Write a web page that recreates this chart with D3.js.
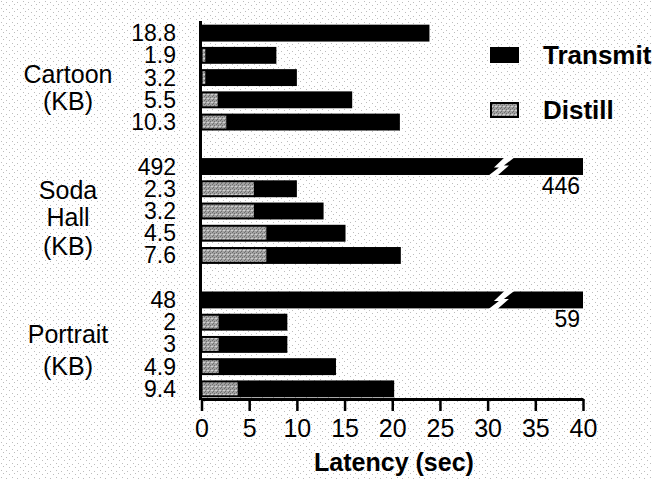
<!DOCTYPE html>
<html>
<head>
<meta charset="utf-8">
<script src="https://cdn.jsdelivr.net/npm/d3@7"></script>
<style>
  body { margin: 0; background: #fff; }
  svg text { font-family: "Liberation Sans", Arial, Helvetica, sans-serif; fill: #000; }
</style>
</head>
<body>
<div id="chart"></div>
<script>
// image groups, shown as the label block on the left
let groupNames = [["Cartoon", "(KB)"], ["Soda", "Hall", "(KB)"], ["Portrait", "(KB)"]]

// size of each image (KB), one row per bar
let cartoonSizes = ["18.8", "1.9", "3.2", "5.5", "10.3"]
let sodaSizes = ["492", "2.3", "3.2", "4.5", "7.6"]
let portraitSizes = ["48", "2", "3", "4.9", "9.4"]

// latency parts (sec)
let cartoonDistill = [0, 0.4, 0.4, 1.7, 2.6]
let cartoonTransmit = [23.9, 7.45, 9.6, 14.1, 18.2]
let sodaDistill = [0, 5.5, 5.5, 6.8, 6.8]
let sodaTransmit = [446, 4.5, 7.3, 8.3, 14.1]
let portraitDistill = [0, 1.8, 1.8, 1.8, 3.8]
let portraitTransmit = [59, 7.2, 7.2, 12.3, 16.4]

let xTicks = [0, 5, 10, 15, 20, 25, 30, 35, 40]
let xMax = 40
let breakAt = 31.5

let width = 652, height = 479

let groups = [
  {sizes: cartoonSizes, distill: cartoonDistill, transmit: cartoonTransmit},
  {sizes: sodaSizes, distill: sodaDistill, transmit: sodaTransmit},
  {sizes: portraitSizes, distill: portraitDistill, transmit: portraitTransmit}
]

// one row per bar, plus an empty slot between groups
let rows = []
let slots = []
groups.forEach((g, gi) => {
  if (gi > 0) slots.push('gap' + gi)
  g.sizes.forEach((s, i) => {
    let key = gi + '-' + i
    slots.push(key)
    rows.push({key: key, group: gi, size: s, distill: g.distill[i], transmit: g.transmit[i],
      total: g.distill[i] + g.transmit[i]})
  })
})

let svg = d3.select('#chart').append('svg')
  .attr('width', width)
  .attr('height', height)

// speckled paper background
let defs = svg.append('defs')
let paper = defs.append('pattern')
  .attr('id', 'paper')
  .attr('width', 11).attr('height', 7)
  .attr('patternUnits', 'userSpaceOnUse')
paper.append('rect').attr('width', 11).attr('height', 7).attr('fill', '#fff')
;[[1, 1], [6, 2], [3, 4], [9, 5]].forEach(p => {
  paper.append('rect').attr('x', p[0]).attr('y', p[1]).attr('width', 1).attr('height', 1)
    .attr('fill', '#bdbdbd')
})
let grain = defs.append('pattern')
  .attr('id', 'grain')
  .attr('width', 4).attr('height', 4)
  .attr('patternUnits', 'userSpaceOnUse')
grain.append('rect').attr('width', 4).attr('height', 4).attr('fill', '#a2a2a2')
;[[0, 0], [2, 1], [1, 3]].forEach(p => {
  grain.append('rect').attr('x', p[0]).attr('y', p[1]).attr('width', 1).attr('height', 1)
    .attr('fill', '#6e6e6e')
})
;[[3, 2], [0, 2]].forEach(p => {
  grain.append('rect').attr('x', p[0]).attr('y', p[1]).attr('width', 1).attr('height', 1)
    .attr('fill', '#d0d0d0')
})

svg.append('rect')
  .attr('width', width).attr('height', height)
  .attr('fill', 'url(#paper)')

let x = d3.scaleLinear()
  .domain([0, xMax])
  .range([201.5, 583])

let y = d3.scaleBand()
  .domain(slots)
  .range([22, 400])
  .paddingInner(0.24)
  .paddingOuter(0.12)

let g = svg.append('g')

// transmit bars (full length), clipped at the axis end
g.selectAll('.bar')
  .data(rows)
  .enter().append('rect')
  .attr('class', 'bar')
  .attr('x', x(0))
  .attr('y', d => y(d.key))
  .attr('width', d => x(Math.min(d.total, xMax)) - x(0))
  .attr('height', y.bandwidth())
  .attr('fill', '#000')

// distill part, drawn over the start of the bar
g.selectAll('.distill')
  .data(rows.filter(d => d.distill > 0))
  .enter().append('rect')
  .attr('class', 'distill')
  .attr('x', x(0) + 1)
  .attr('y', d => y(d.key) + 2)
  .attr('width', d => Math.max(2, x(d.distill) - x(0) - 1))
  .attr('height', y.bandwidth() - 4)
  .attr('fill', 'url(#grain)')

// break marks on bars that run past the axis
let broken = rows.filter(d => d.total > xMax)
g.selectAll('.break')
  .data(broken)
  .enter().append('path')
  .attr('class', 'break')
  .attr('fill', '#fff')
  .attr('d', d => {
    let cx = x(breakAt), t = y(d.key) - 1, b = y(d.key) + y.bandwidth() + 1
    let m = (t + b) / 2
    return 'M' + (cx + 3) + ',' + t + ' L' + (cx + 13) + ',' + t +
      ' L' + (cx + 2) + ',' + (m - 1) + ' L' + (cx + 7) + ',' + (m - 1) +
      ' L' + (cx - 5) + ',' + b + ' L' + (cx - 14) + ',' + b +
      ' L' + (cx - 3) + ',' + (m + 1) + ' L' + (cx - 8) + ',' + (m + 1) + ' Z'
  })

g.selectAll('.total-label')
  .data(broken)
  .enter().append('text')
  .attr('class', 'total-label')
  .attr('x', x(xMax) - 3)
  .attr('y', d => y(d.key) + y.bandwidth() + 19)
  .attr('text-anchor', 'end')
  .style('font-size', '23px')
  .text(d => d.transmit)

// size labels
g.selectAll('.size')
  .data(rows)
  .enter().append('text')
  .attr('class', 'size')
  .attr('x', 176)
  .attr('y', d => y(d.key) + y.bandwidth() / 2 + 8)
  .attr('text-anchor', 'end')
  .style('font-size', '23px')
  .text(d => d.size)

// group labels
let labelY = [[83, 110], [199, 226, 255], [343, 375]]
groupNames.forEach((lines, gi) => {
  lines.forEach((line, li) => {
    svg.append('text')
      .attr('x', 68)
      .attr('y', labelY[gi][li])
      .attr('text-anchor', 'middle')
      .style('font-size', '25px')
      .text(line)
  })
})

// axes
svg.append('line')
  .attr('x1', x(0) - 1).attr('x2', x(0) - 1)
  .attr('y1', 21).attr('y2', 400)
  .attr('stroke', '#000').attr('stroke-width', 3)

let xAxis = svg.append('g')
  .attr('transform', 'translate(0,399)')
  .call(d3.axisBottom(x).tickValues(xTicks).tickSize(12).tickSizeOuter(0).tickPadding(8))
xAxis.select('.domain').attr('stroke', '#000').attr('stroke-width', 3)
xAxis.selectAll('.tick line').attr('stroke', '#000').attr('stroke-width', 2.5)
xAxis.selectAll('.tick text')
  .attr('fill', '#000')
  .style('font-size', '25px')
  .style('font-family', '"Liberation Sans", Arial, Helvetica, sans-serif')

svg.append('text')
  .attr('x', 394)
  .attr('y', 471)
  .attr('text-anchor', 'middle')
  .style('font-size', '25px')
  .style('font-weight', 'bold')
  .text('Latency (sec)')

// legend
let legend = svg.append('g')
legend.append('rect')
  .attr('x', 490).attr('y', 47).attr('width', 29).attr('height', 16)
  .attr('fill', '#000')
legend.append('rect')
  .attr('x', 491).attr('y', 103).attr('width', 27).attr('height', 14)
  .attr('fill', 'url(#grain)')
  .attr('stroke', '#000').attr('stroke-width', 2)
legend.append('text')
  .attr('x', 543).attr('y', 64)
  .style('font-size', '26px').style('font-weight', 'bold')
  .text('Transmit')
legend.append('text')
  .attr('x', 543).attr('y', 119)
  .style('font-size', '26px').style('font-weight', 'bold')
  .text('Distill')
</script>
</body>
</html>
